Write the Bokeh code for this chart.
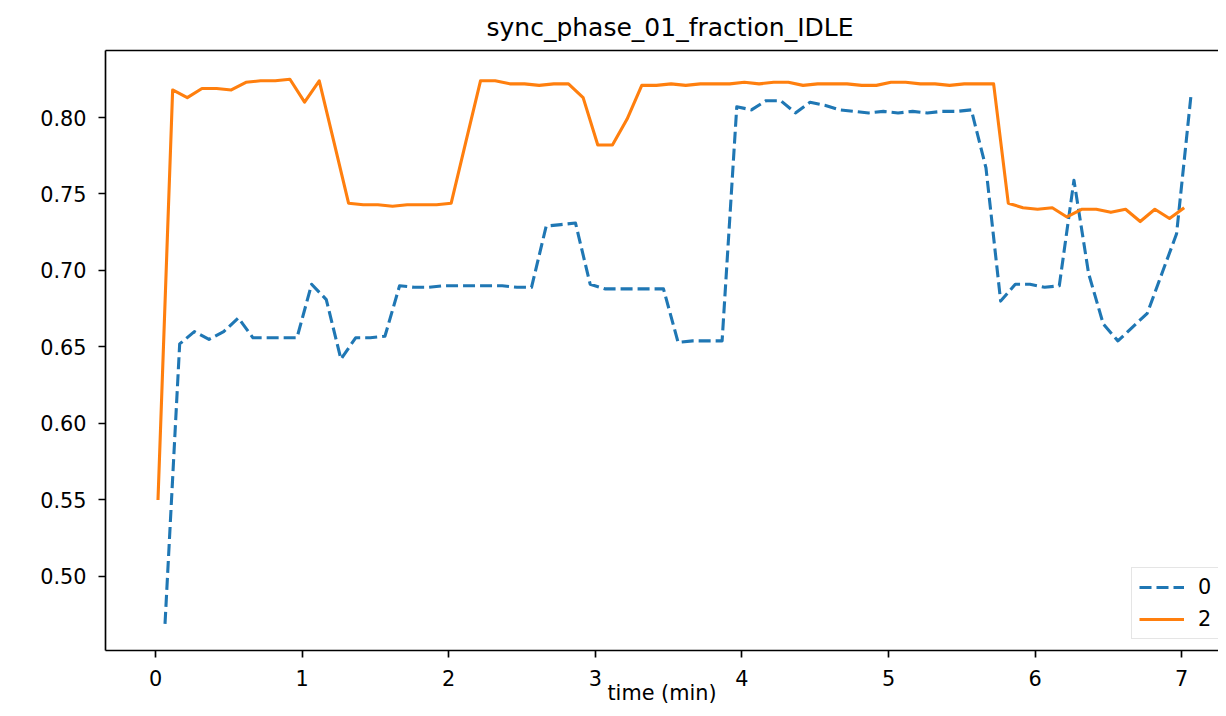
from bokeh.plotting import figure
from bokeh.models import (Range1d, FixedTicker, NumeralTickFormatter, LinearAxis,
                          Legend, LegendItem)
from bokeh.embed import file_html
from bokeh.resources import INLINE

# ---------------- data ----------------
title_text = "sync_phase_01_fraction_IDLE"
x_label = "time (min)"
x_ticks = [0, 1, 2, 3, 4, 5, 6, 7]
y_ticks = [0.50, 0.55, 0.60, 0.65, 0.70, 0.75, 0.80]

series0_label = "0"
series0_time = [0.065, 0.165, 0.265, 0.365, 0.465, 0.565, 0.665, 0.765, 0.865, 0.965,
                1.065, 1.165, 1.265, 1.365, 1.465, 1.565, 1.665, 1.765, 1.865, 1.965,
                2.065, 2.165, 2.265, 2.365, 2.465, 2.565, 2.665, 2.765, 2.865, 2.965,
                3.065, 3.165, 3.265, 3.365, 3.465, 3.565, 3.665, 3.765, 3.865, 3.965,
                4.065, 4.165, 4.265, 4.365, 4.465, 4.565, 4.665, 4.765, 4.865, 4.965,
                5.065, 5.165, 5.265, 5.365, 5.465, 5.565, 5.665, 5.765, 5.865, 5.965,
                6.065, 6.165, 6.265, 6.365, 6.465, 6.565, 6.665, 6.765, 6.865, 6.965,
                7.065]
series0_value = [0.469, 0.652, 0.660, 0.655, 0.660, 0.669, 0.656, 0.656, 0.656, 0.656,
                 0.691, 0.681, 0.642, 0.656, 0.656, 0.657, 0.690, 0.689, 0.689, 0.690,
                 0.690, 0.690, 0.690, 0.690, 0.689, 0.689, 0.729, 0.730, 0.731, 0.691,
                 0.688, 0.688, 0.688, 0.688, 0.688, 0.653, 0.654, 0.654, 0.654, 0.807,
                 0.805, 0.811, 0.811, 0.803, 0.810, 0.808, 0.805, 0.804, 0.803, 0.804,
                 0.803, 0.804, 0.803, 0.804, 0.804, 0.805, 0.767, 0.680, 0.691, 0.691,
                 0.689, 0.690, 0.759, 0.698, 0.665, 0.654, 0.663, 0.672, 0.698, 0.724,
                 0.816]

series2_label = "2"
series2_time = [0.017, 0.117, 0.217, 0.317, 0.417, 0.517, 0.617, 0.717, 0.817, 0.917,
                1.017, 1.117, 1.217, 1.317, 1.417, 1.517, 1.617, 1.717, 1.817, 1.917,
                2.017, 2.117, 2.217, 2.317, 2.417, 2.517, 2.617, 2.717, 2.817, 2.917,
                3.017, 3.117, 3.217, 3.317, 3.417, 3.517, 3.617, 3.717, 3.817, 3.917,
                4.017, 4.117, 4.217, 4.317, 4.417, 4.517, 4.617, 4.717, 4.817, 4.917,
                5.017, 5.117, 5.217, 5.317, 5.417, 5.517, 5.617, 5.717, 5.817, 5.917,
                6.017, 6.117, 6.217, 6.317, 6.417, 6.517, 6.617, 6.717, 6.817, 6.917,
                7.017]
series2_value = [0.550, 0.818, 0.813, 0.819, 0.819, 0.818, 0.823, 0.824, 0.824, 0.825,
                 0.810, 0.824, 0.784, 0.744, 0.743, 0.743, 0.742, 0.743, 0.743, 0.743,
                 0.744, 0.784, 0.824, 0.824, 0.822, 0.822, 0.821, 0.822, 0.822, 0.813,
                 0.782, 0.782, 0.799, 0.821, 0.821, 0.822, 0.821, 0.822, 0.822, 0.822,
                 0.823, 0.822, 0.823, 0.823, 0.821, 0.822, 0.822, 0.822, 0.821, 0.821,
                 0.823, 0.823, 0.822, 0.822, 0.821, 0.822, 0.822, 0.822, 0.744, 0.741,
                 0.740, 0.741, 0.735, 0.740, 0.740, 0.738, 0.740, 0.732, 0.740, 0.734,
                 0.741]

# ---------------- style ----------------
FONT = "DejaVu Sans"
TICK_FS = "20.8px"
LW = 3.1
SPINE = 1.67

p = figure(width=1218, height=708, output_backend="svg", toolbar_location=None,
           x_range=Range1d(-0.341, 7.251), y_range=Range1d(0.4516, 0.8438),
           min_border_left=105, min_border_right=0, min_border_top=50,
           min_border_bottom=58, x_axis_label=x_label)
p.grid.visible = False
p.outline_line_color = None
p.background_fill_color = "white"
p.border_fill_color = "white"

p.title.text = title_text
p.title.align = "left"
p.title.offset = 381
p.title.text_font = FONT
p.title.text_font_size = "25px"
p.title.text_font_style = "normal"
p.title.text_color = "black"
p.title.standoff = 17

r0 = p.line(series0_time, series0_value, line_color="#1f77b4", line_width=LW,
            line_dash="12 5", line_join="round")
r2 = p.line(series2_time, series2_value, line_color="#ff7f0e", line_width=LW,
            line_join="round")

p.xaxis.ticker = FixedTicker(ticks=x_ticks)
p.yaxis.ticker = FixedTicker(ticks=y_ticks)
p.yaxis.formatter = NumeralTickFormatter(format="0.00")
for ax in (p.xaxis[0], p.yaxis[0]):
    ax.axis_line_color = "black"
    ax.axis_line_width = SPINE
    ax.major_tick_line_color = "black"
    ax.major_tick_line_width = SPINE
    ax.major_tick_out = 7
    ax.major_tick_in = 0
    ax.minor_tick_out = 0
    ax.minor_tick_in = 0
    ax.major_label_text_font = FONT
    ax.major_label_text_font_size = TICK_FS
    ax.major_label_text_color = "black"
p.yaxis.major_label_standoff = 12
p.xaxis.major_label_standoff = 12
p.xaxis.axis_label_text_font = FONT
p.xaxis.axis_label_text_font_size = TICK_FS
p.xaxis.axis_label_text_font_style = "normal"
p.xaxis.axis_label_text_color = "black"
p.xaxis.axis_label_standoff = -8

top = LinearAxis(ticker=FixedTicker(ticks=[]), axis_line_color="black",
                 axis_line_width=SPINE, major_tick_out=0, major_tick_in=0,
                 minor_tick_out=0, minor_tick_in=0,
                 major_label_text_font_size="0px", major_label_standoff=0)
p.add_layout(top, "above")

legend = Legend(items=[LegendItem(label=series0_label, renderers=[r0]),
                       LegendItem(label=series2_label, renderers=[r2])],
                location=(1026, 11), label_text_font=FONT,
                label_text_font_size=TICK_FS, label_text_color="black",
                glyph_width=45, glyph_height=24, label_height=24,
                label_standoff=14, spacing=8, padding=7, margin=0,
                border_line_color="#cccccc", border_line_width=1.67,
                background_fill_alpha=0.8)
p.add_layout(legend)

open("out.html", "w").write(file_html(p, INLINE))
